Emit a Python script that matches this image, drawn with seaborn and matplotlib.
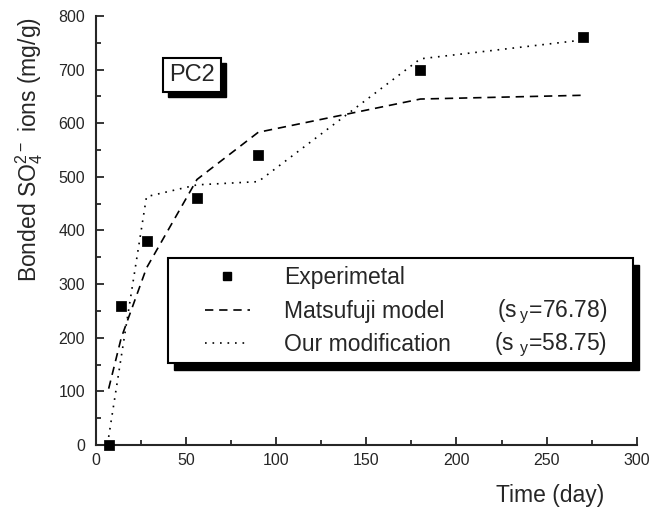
import numpy as np
import pandas as pd
import seaborn as sns
import matplotlib.pyplot as plt
from matplotlib.lines import Line2D
from matplotlib.patches import Rectangle
from matplotlib.ticker import MultipleLocator

# Data
days = [7, 14, 28, 56, 90, 180, 270]
experimental = [0, 260, 380, 460, 540, 700, 760]
matsufuji = [105, 200, 330, 495, 583, 645, 652]
modification = [15, 165, 463, 485, 491, 720, 755]

df = pd.DataFrame({'day': days, 'exp': experimental,
                   'mats': matsufuji, 'mod': modification})

sns.set_style('ticks')
plt.rcParams['font.family'] = ['Liberation Sans', 'DejaVu Sans']
plt.rcParams['mathtext.fontset'] = 'custom'
plt.rcParams['mathtext.rm'] = 'Liberation Sans'

fig = plt.figure(figsize=(6.49, 5.13), dpi=100)
ax = fig.add_axes([0.148, 0.1326, 0.833, 0.8364])

# model curves and measured points
sns.lineplot(data=df, x='day', y='mats', ax=ax, color='black', lw=1.2,
             linestyle=(0, (5, 3.5)))
sns.lineplot(data=df, x='day', y='mod', ax=ax, color='black', lw=1.2,
             linestyle=(0, (1, 3.5)))
sns.scatterplot(data=df, x='day', y='exp', ax=ax, color='black', marker='s',
                s=45, edgecolor='black', zorder=5, clip_on=False)

ax.set_xlim(0, 300)
ax.set_ylim(0, 800)
ax.xaxis.set_major_locator(MultipleLocator(50))
ax.xaxis.set_minor_locator(MultipleLocator(25))
ax.yaxis.set_major_locator(MultipleLocator(100))
ax.yaxis.set_minor_locator(MultipleLocator(50))
ax.tick_params(which='both', direction='in', width=1.3, labelsize=11.5)
ax.tick_params(which='major', length=6)
ax.tick_params(which='minor', length=3.5)
ax.tick_params(axis='y', pad=8)
ax.tick_params(axis='x', pad=6)
sns.despine(ax=ax)
for s in ['left', 'bottom']:
    ax.spines[s].set_linewidth(1.5)

ax.set_xlabel('Time (day)', fontsize=16.5)
ax.xaxis.set_label_coords(0.839, -0.092)
ax.set_ylabel(r'Bonded SO$_\mathregular{4}^\mathregular{2-}$ ions (mg/g)', fontsize=16.5)
ax.yaxis.set_label_coords(-0.094, 0.688)

# legend with a drop shadow
x0, x1, y0, y1 = 0.133, 0.993, 0.191, 0.436
ax.add_patch(Rectangle((x0 + 0.012, y0 - 0.016), x1 - x0, y1 - y0,
                       transform=ax.transAxes, color='black', clip_on=False, zorder=6))
ax.add_patch(Rectangle((x0, y0), x1 - x0, y1 - y0, transform=ax.transAxes,
                       facecolor='white', edgecolor='black', lw=1.5,
                       clip_on=False, zorder=7))
handles = [Line2D([], [], color='black', marker='s', ms=6, ls='none'),
           Line2D([], [], color='black', lw=1.2, ls=(0, (5, 3.5))),
           Line2D([], [], color='black', lw=1.2, ls=(0, (1, 3.5)))]
leg = ax.legend(handles, ['Experimetal', 'Matsufuji model', 'Our modification'],
                loc='upper left', bbox_to_anchor=(0.18, 0.443), frameon=False,
                fontsize=16.5, handlelength=1.97, handletextpad=1.5,
                labelspacing=0.46, borderpad=0)
leg.set_zorder(8)

# s_y values, lined up with the legend rows
fig.canvas.draw()
rows = []
for t in leg.get_texts():
    bb = t.get_window_extent()
    rows.append(ax.transAxes.inverted().transform((0, (bb.y0 + bb.y1) / 2))[1])
ax.text(0.945, rows[1], r'(s$\,_\mathregular{y}$=76.78)', transform=ax.transAxes,
        ha='right', va='center', fontsize=16.5, zorder=9)
ax.text(0.945, rows[2], r'(s $_\mathregular{y}$=58.75)', transform=ax.transAxes,
        ha='right', va='center', fontsize=16.5, zorder=9)

# PC2 label box with shadow
bx0, bx1, by0, by1 = 0.124, 0.231, 0.823, 0.902
ax.add_patch(Rectangle((bx0 + 0.0092, by0 - 0.0117), bx1 - bx0, by1 - by0,
                       transform=ax.transAxes, color='black', clip_on=False, zorder=6))
ax.add_patch(Rectangle((bx0, by0), bx1 - bx0, by1 - by0, transform=ax.transAxes,
                       facecolor='white', edgecolor='black', lw=1.5,
                       clip_on=False, zorder=7))
ax.text((bx0 + bx1) / 2, (by0 + by1) / 2, 'PC2', transform=ax.transAxes,
        ha='center', va='center', fontsize=17, zorder=8)

fig.savefig('out.png', dpi=100)
